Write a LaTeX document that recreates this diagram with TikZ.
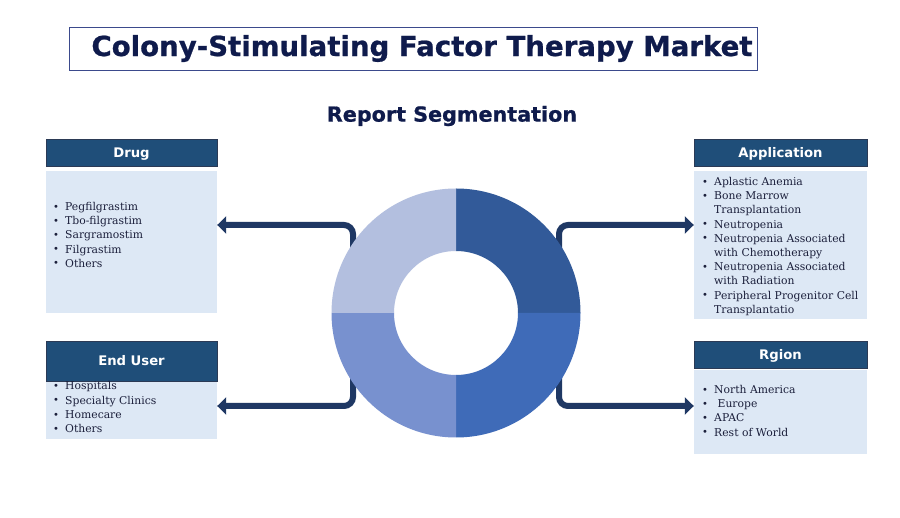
\documentclass[tikz,border=0pt]{standalone}
\usepackage{fontspec}
\setmainfont{DejaVu Serif}
\newfontfamily\heavyfont[FakeBold=0.8]{DejaVu Sans}
\newfontfamily\headfont{DejaVu Sans}
\usetikzlibrary{arrows.meta}
\definecolor{navy}{HTML}{0F1B4C}
\definecolor{titleline}{HTML}{3B4A8C}
\definecolor{hdrblue}{HTML}{1F4E79}
\definecolor{hdrline}{HTML}{2B3A55}
\definecolor{bodyblue}{HTML}{DDE8F5}
\definecolor{listc}{HTML}{1B1F3B}
\definecolor{arrowc}{HTML}{1F3864}
\definecolor{qa}{HTML}{325A99}
\definecolor{qb}{HTML}{3F6BB8}
\definecolor{qc}{HTML}{7891CF}
\definecolor{qd}{HTML}{B3BFDF}
\newcommand\itm{\makebox[12pt][l]{\raisebox{0.3pt}{\fontsize{10}{10}\selectfont\textbullet}}}
\newcommand\ind{\hspace*{12pt}}
\tikzset{
  hdr/.style={draw=hdrline, fill=hdrblue, line width=0.8pt, minimum width=171, text=white,
    font=\headfont\bfseries\fontsize{13.2}{16}\selectfont, inner sep=0,
    text height=9.6pt, text depth=0pt},
  bodybox/.style={fill=bodyblue, minimum width=171, inner sep=0},
  list/.style={anchor=north west, align=left, inner sep=0, text=listc,
    font=\fontsize{10.8}{14.2}\selectfont},
  conn/.style={draw=arrowc, line width=6, rounded corners=9, -{Triangle[width=17,length=9]}},
}
\begin{document}
\begin{tikzpicture}[x=1pt,y=1pt]
\useasboundingbox[fill=white] (0,0) rectangle (900,517);

% title
\node[draw=titleline, line width=0.9pt, minimum width=688, minimum height=43, inner sep=0,
  text=navy, font=\heavyfont\bfseries\fontsize{27.6}{30}\selectfont] (title) at (413,468.5)
  {\hspace*{18pt}Colony-Stimulating Factor Therapy Market};
\node[text=navy, font=\heavyfont\bfseries\fontsize{20.7}{26}\selectfont] (subtitle) at (452,401) {Report Segmentation};

% boxes
\node[hdr, minimum height=27] (drughdr) at (131.5,364.5) {Drug};
\node[bodybox, minimum height=142] (drugbody) at (131.5,275) {};
\node[bodybox, minimum height=58] (userbody) at (131.5,107) {};
\node[hdr, minimum height=40] (userhdr) at (131.5,156) {End User};
\node[hdr, minimum width=173, minimum height=27] (apphdr) at (780.5,364.5) {Application};
\node[bodybox, minimum width=173, minimum height=148] (appbody) at (780.5,272) {};
\node[bodybox, minimum width=173, minimum height=84] (regbody) at (780.5,105) {};
\node[hdr, minimum width=173, minimum height=27] (reghdr) at (780.5,162.5) {Rgion};

% lists
\node[list] (druglist) at (53,315) {\itm Pegfilgrastim\\\itm Tbo-filgrastim\\\itm Sargramostim\\\itm Filgrastim\\\itm Others};
\node[list] (userlist) at (53,135.5) {\itm Hospitals\\\itm Specialty Clinics\\\itm Homecare\\\itm Others};
\node[list] (applist) at (702,340) {\itm Aplastic Anemia\\\itm Bone Marrow\\\ind Transplantation\\\itm Neutropenia\\\itm Neutropenia Associated\\\ind with Chemotherapy\\\itm Neutropenia Associated\\\ind with Radiation\\\itm Peripheral Progenitor Cell\\\ind Transplantatio};
\node[list] (reglist) at (702,132) {\itm North America\\\itm\ Europe\\\itm APAC\\\itm Rest of World};

% connectors
\coordinate (hub) at (456,204);
\coordinate (rowU) at (0,292);
\coordinate (rowL) at (0,111);
\coordinate (sl) at (353,204);
\coordinate (sr) at (559,204);
\draw[conn] (sl) |- (drugbody.east |- rowU);
\draw[conn] (sl) |- (userbody.east |- rowL);
\draw[conn] (sr) |- (appbody.west |- rowU);
\draw[conn] (sr) |- (regbody.west |- rowL);

% donut
\fill[qa] ([shift={(90:124.5)}]hub) arc[start angle=90, end angle=0, radius=124.5]
  -- ([shift={(0:62)}]hub) arc[start angle=0, end angle=90, radius=62] -- cycle;
\fill[qb] ([shift={(0:124.5)}]hub) arc[start angle=0, end angle=-90, radius=124.5]
  -- ([shift={(-90:62)}]hub) arc[start angle=-90, end angle=0, radius=62] -- cycle;
\fill[qc] ([shift={(-90:124.5)}]hub) arc[start angle=-90, end angle=-180, radius=124.5]
  -- ([shift={(180:62)}]hub) arc[start angle=180, end angle=270, radius=62] -- cycle;
\fill[qd] ([shift={(180:124.5)}]hub) arc[start angle=180, end angle=90, radius=124.5]
  -- ([shift={(90:62)}]hub) arc[start angle=90, end angle=180, radius=62] -- cycle;
\end{tikzpicture}
\end{document}
